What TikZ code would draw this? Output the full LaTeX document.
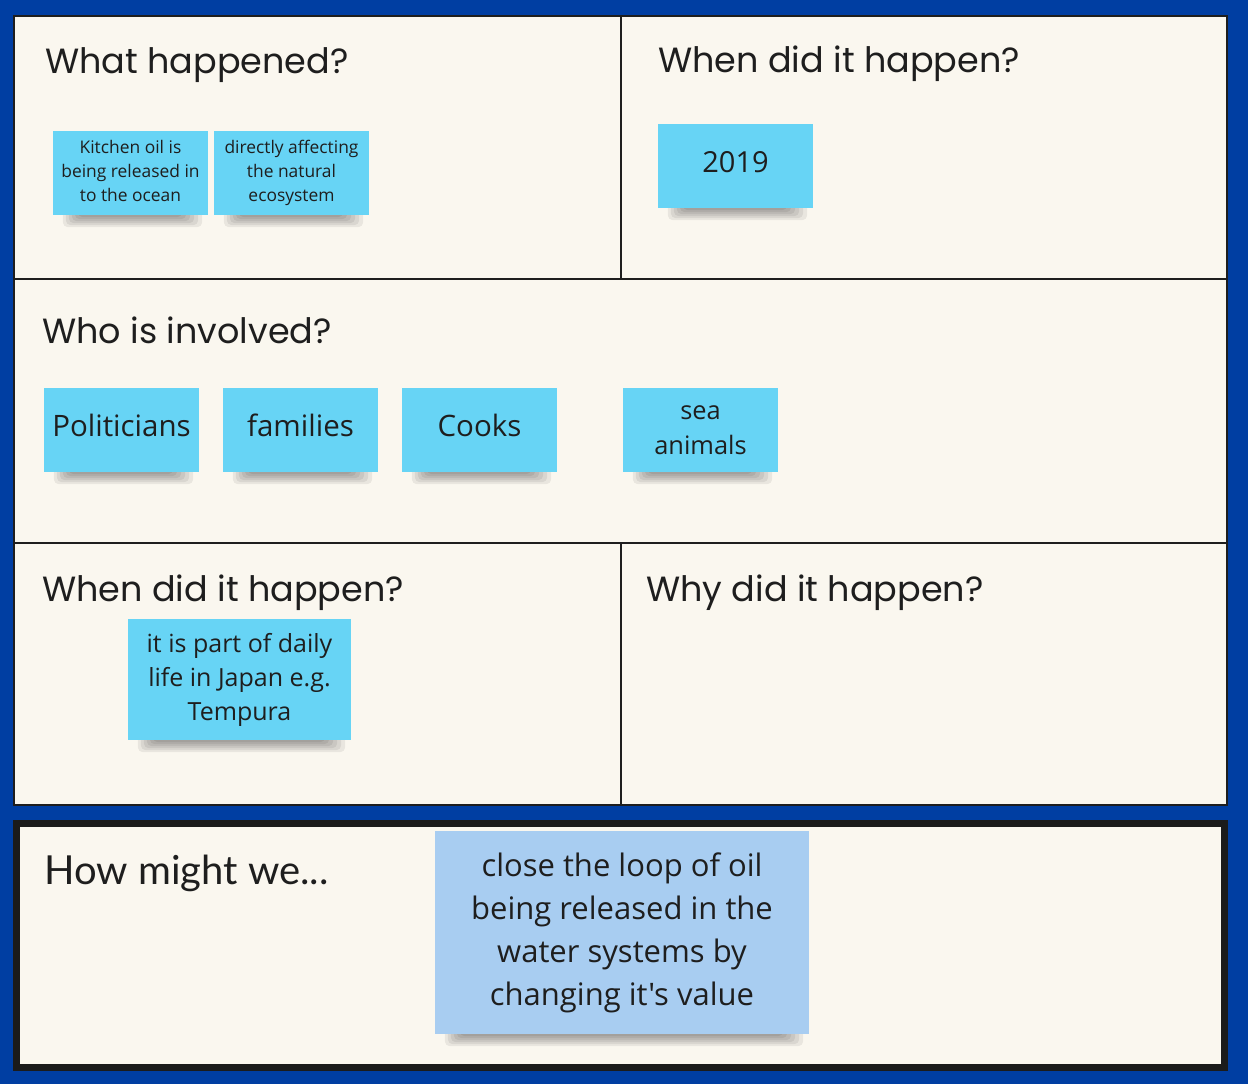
\documentclass[tikz,border=0pt]{standalone}
\usepackage{fontspec}
\newfontfamily\headfont{Poppins}
\newfontfamily\hmwfont{Lato}
\newfontfamily\notefont{Open Sans}
\definecolor{bgblue}{HTML}{003EA2}
\definecolor{cream}{HTML}{FAF7EF}
\definecolor{ink}{HTML}{1E1E1E}
\definecolor{sticky}{HTML}{67D4F5}
\definecolor{stickyb}{HTML}{A8CDF1}
\pgfdeclarelayer{back}
\pgfdeclarelayer{shade}
\pgfsetlayers{back,shade,main}
\newcommand{\nt}[2][3pt]{\raisebox{#1}{\begin{tabular}{@{}c@{}}#2\end{tabular}}}
\tikzset{
  panel/.style={draw=ink, line width=2.5pt, fill=cream},
  heading/.style={anchor=base west, inner sep=0pt, text=ink, font=\headfont\fontsize{35}{40}\selectfont},
  note/.style={fill=sticky, text=ink, inner sep=0pt, minimum width=155pt, minimum height=84pt},
}
\newcommand{\noteshadow}[1]{%
  \foreach \i in {1,...,6}{%
    \fill[black, opacity=0.065, rounded corners=5pt]
      ([xshift={28pt-3pt*\i}, yshift=10pt]#1.south west) rectangle ([xshift={-30pt+4pt*\i}, yshift={-2pt*\i}]#1.south east);
  }%
}
\begin{document}
\begin{tikzpicture}[x=1pt, y=-1pt]
\begin{pgfonlayer}{back}
\fill[bgblue] (0,0) rectangle (1248,1084);
\fill[cream] (14,16) rectangle (1227,805);
\draw[panel] (14,16) rectangle (621,279);
\draw[panel] (621,16) rectangle (1227,279);
\draw[panel] (14,279) rectangle (1227,543);
\draw[panel] (14,543) rectangle (621,805);
\draw[panel] (621,543) rectangle (1227,805);
\draw[draw=ink!90!black, line width=7pt, fill=cream] (16.5,823.5) rectangle (1224.5,1067.5);
\end{pgfonlayer}
\useasboundingbox (0,0) rectangle (1248,1084);

% headings
\node[heading] (h1) at (45,73) {What happened?};
\node[heading] (h2) at (658,72) {When did it happen?};
\node[heading] (h3) at (42,343) {Who is involved?};
\node[heading] (h4) at (42,601) {When did it happen?};
\node[heading] (h5) at (646,601) {Why did it happen?};
\node[heading, font=\hmwfont\fontsize{40}{44}\selectfont] (h6) at (44,884) {How might we...};

% sticky notes
\node[note, font=\notefont\fontsize{17.4}{24}\selectfont] (k1) at (130.5,173) {\nt{Kitchen oil is\\being released in\\to the ocean}};
\node[note, font=\notefont\fontsize{17.4}{24}\selectfont] (k2) at (291.5,173) {\nt{directly affecting\\the natural\\ecosystem}};
\node[note, font=\notefont\fontsize{29}{34}\selectfont] (yr) at (735.5,166) {\nt{2019}};
\node[note, font=\notefont\fontsize{29.5}{34}\selectfont] (pol) at (121.5,430) {\nt{Politicians}};
\node[note, font=\notefont\fontsize{29.5}{34}\selectfont] (fam) at (300.5,430) {\nt{families}};
\node[note, font=\notefont\fontsize{29.5}{34}\selectfont] (cook) at (479.5,430) {\nt{Cooks}};
\node[note, font=\notefont\fontsize{25.4}{35}\selectfont] (sea) at (700.5,430) {\nt{sea\\animals}};
\node[note, minimum width=223pt, minimum height=121pt, font=\notefont\fontsize{25}{34}\selectfont] (jp) at (239.5,679.5) {\nt[4pt]{it is part of daily\\life in Japan e.g.\\Tempura}};
\node[note, fill=stickyb, minimum width=374pt, minimum height=203pt, font=\notefont\fontsize{31}{43}\selectfont] (hmw) at (622,932.5) {\nt[5pt]{close the loop of oil\\being released in the\\water systems by\\changing it's value}};

\begin{pgfonlayer}{shade}
\noteshadow{k1}
\noteshadow{k2}
\noteshadow{yr}
\noteshadow{pol}
\noteshadow{fam}
\noteshadow{cook}
\noteshadow{sea}
\noteshadow{jp}
\noteshadow{hmw}
\end{pgfonlayer}
\end{tikzpicture}
\end{document}
